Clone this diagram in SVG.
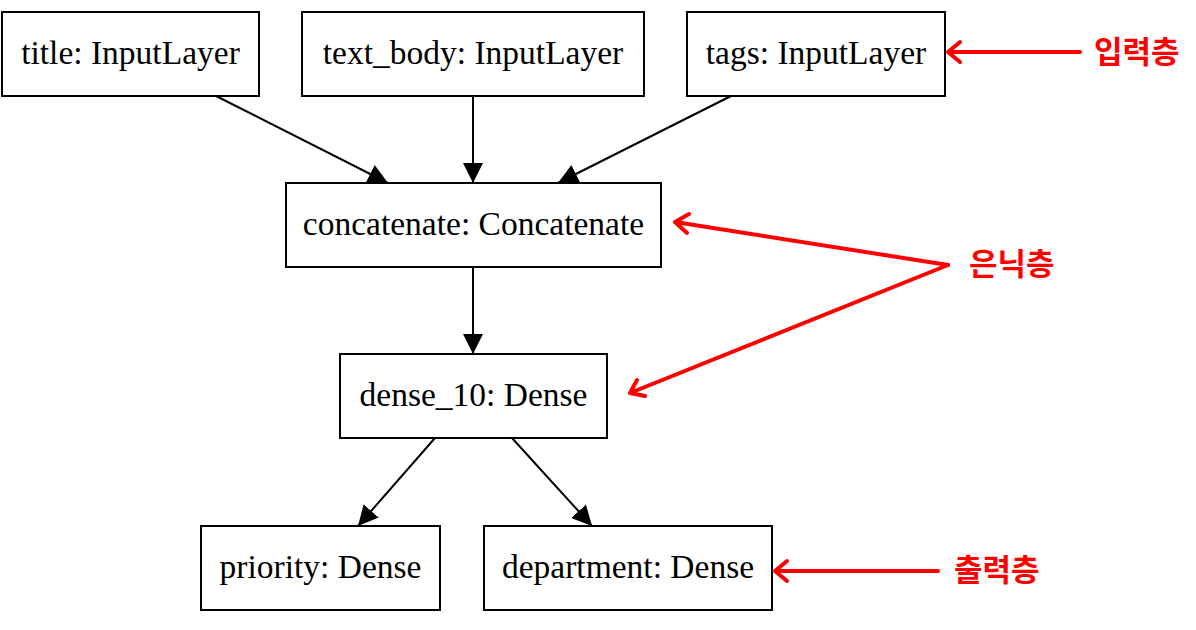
<svg xmlns="http://www.w3.org/2000/svg" width="1196" height="630" viewBox="0 0 1196 630">
<style>
.box{fill:#fff;stroke:#000;stroke-width:2}
.lbl{font-family:"Liberation Serif","Times New Roman",serif;font-size:33.5px;fill:#000;text-anchor:middle}
.edge{stroke:#000;stroke-width:2;fill:none}
.note{font-family:"Noto Sans CJK KR","Noto Sans",sans-serif;font-size:31px;font-weight:bold;fill:#ff0000}
.red{stroke:#ff0000;stroke-width:4;fill:none;stroke-linecap:round;stroke-linejoin:round}
</style>
<defs>
<marker id="ah" markerUnits="userSpaceOnUse" markerWidth="24" markerHeight="24" viewBox="0 0 24 24" refX="20" refY="12" orient="auto">
<path d="M0,2 L20,12 L0,22 Z" fill="#000"/>
</marker>
</defs>
<rect width="1196" height="630" fill="#fff"/>
<g id="connectors">
<line class="edge" x1="216" y1="96" x2="388" y2="183" marker-end="url(#ah)"/>
<line class="edge" x1="473" y1="96" x2="473" y2="183" marker-end="url(#ah)"/>
<line class="edge" x1="731" y1="96" x2="558" y2="183" marker-end="url(#ah)"/>
<line class="edge" x1="473" y1="267" x2="473" y2="354" marker-end="url(#ah)"/>
<line class="edge" x1="435" y1="438" x2="358" y2="526" marker-end="url(#ah)"/>
<line class="edge" x1="512" y1="438" x2="592" y2="526" marker-end="url(#ah)"/>
</g>
<g id="title"><rect class="box" x="2" y="12" width="257" height="84"/><text class="lbl" x="130.5" y="64">title: InputLayer</text></g>
<g id="text_body"><rect class="box" x="302" y="12" width="342" height="84"/><text class="lbl" x="473" y="64">text_body: InputLayer</text></g>
<g id="tags"><rect class="box" x="687" y="12" width="258" height="84"/><text class="lbl" x="816" y="64">tags: InputLayer</text></g>
<g id="concatenate"><rect class="box" x="286" y="183" width="375" height="84"/><text class="lbl" x="473.5" y="235">concatenate: Concatenate</text></g>
<g id="dense_10"><rect class="box" x="340" y="354" width="267" height="84"/><text class="lbl" x="473.5" y="406">dense_10: Dense</text></g>
<g id="priority"><rect class="box" x="201" y="526" width="239" height="84"/><text class="lbl" x="320.5" y="578">priority: Dense</text></g>
<g id="department"><rect class="box" x="484" y="526" width="288" height="84"/><text class="lbl" x="628" y="578">department: Dense</text></g>
<g id="annotations">
<path class="red" d="M1080,52 L948,52 M960,42 L948,52 L960,62"/>
<text class="note" x="1094" y="63">입력층</text>
<path class="red" d="M948,265 L675,222 M689,214 L675,222 L687,233"/>
<path class="red" d="M948,265 L630,393 M637,380 L630,393 L645,396"/>
<text class="note" x="969" y="275">은닉층</text>
<path class="red" d="M938,571 L775,571 M787,561 L775,571 L787,581"/>
<text class="note" x="954" y="581">출력층</text>
</g>
</svg>
